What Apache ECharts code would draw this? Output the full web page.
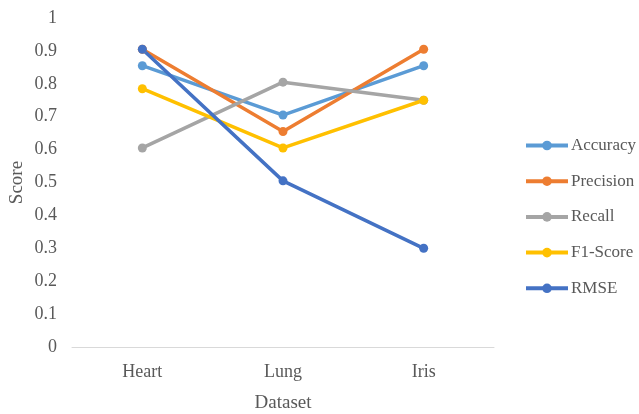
<!DOCTYPE html>
<html>
<head>
<meta charset="utf-8">
<script src="https://cdn.jsdelivr.net/npm/echarts@6/dist/echarts.min.js"></script>
<style>
  html, body { margin: 0; padding: 0; background: #fff; }
  #chart { width: 639px; height: 414px; }
</style>
</head>
<body>
<div id="chart"></div>
<script>
// Datasets on the x axis
const datasets = ['Heart', 'Lung', 'Iris'];

// Metric scores per dataset
const accuracy  = [0.855, 0.705, 0.855];
const precision = [0.905, 0.655, 0.905];
const recall    = [0.605, 0.805, 0.75];
const f1Score   = [0.785, 0.605, 0.75];
const rmse      = [0.905, 0.505, 0.30];

const seriesNames  = ['Accuracy', 'Precision', 'Recall', 'F1-Score', 'RMSE'];
const seriesValues = [accuracy, precision, recall, f1Score, rmse];
const seriesColors = ['#5B9BD5', '#ED7D31', '#A5A5A5', '#FFC000', '#4472C4'];

const font = '"Liberation Serif", "Times New Roman", serif';
const textColor = '#595959';

const chart = echarts.init(document.getElementById('chart'), null, { renderer: 'canvas' });

chart.setOption({
  animation: false,
  backgroundColor: '#fff',
  grid: { left: 72, right: 145, top: 18, bottom: 67, containLabel: false, outerBoundsMode: 'none' },
  legend: {
    orient: 'vertical',
    left: 524,
    top: 137,
    padding: 0,
    itemWidth: 42,
    itemHeight: 12,
    itemGap: 18.7,
    lineStyle: { width: 4 },
    textStyle: { fontFamily: font, fontSize: 17, color: textColor, padding: [0, 0, 0, -2] },
    data: seriesNames
  },
  xAxis: {
    type: 'category',
    data: datasets,
    boundaryGap: true,
    name: 'Dataset',
    nameLocation: 'middle',
    nameGap: 47,
    nameTextStyle: { fontFamily: font, fontSize: 19, color: textColor },
    axisLine: { lineStyle: { color: '#D9D9D9', width: 1 } },
    axisTick: { show: false },
    axisLabel: { fontFamily: font, fontSize: 18, color: textColor, margin: 16 }
  },
  yAxis: {
    type: 'value',
    min: 0,
    max: 1,
    interval: 0.1,
    name: 'Score',
    nameLocation: 'middle',
    nameGap: 45,
    nameMoveOverlap: false,
    nameTextStyle: { fontFamily: font, fontSize: 19, color: textColor },
    axisLine: { show: false },
    axisTick: { show: false },
    splitLine: { show: false },
    axisLabel: {
      fontFamily: font, fontSize: 18, color: textColor, margin: 15,
      formatter: v => String(Math.round(v * 10) / 10)
    }
  },
  series: seriesNames.map((name, i) => ({
    name,
    type: 'line',
    data: seriesValues[i],
    color: seriesColors[i],
    symbol: 'circle',
    symbolSize: 9,
    lineStyle: { width: 3.5, color: seriesColors[i] },
    itemStyle: { color: seriesColors[i] }
  }))
});
</script>
</body>
</html>
